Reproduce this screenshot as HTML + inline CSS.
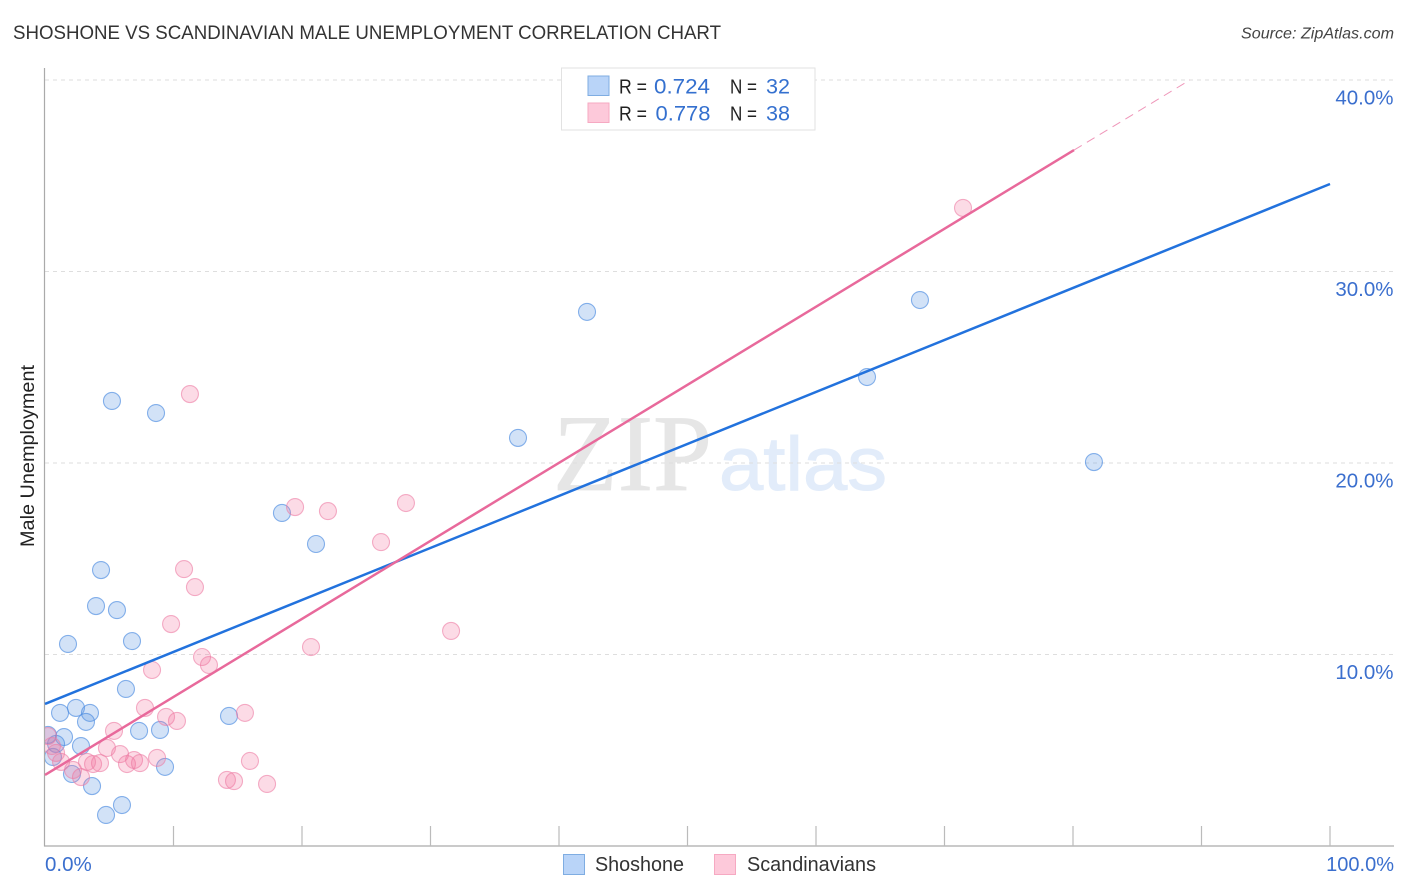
<!DOCTYPE html>
<html lang="en">
<head>
<meta charset="utf-8">
<title>Shoshone vs Scandinavian Male Unemployment Correlation Chart</title>
<style>
html,body{margin:0;padding:0;background:#fff;width:1406px;height:892px;overflow:hidden}
svg{display:block;font-family:"Liberation Sans",sans-serif}
</style>
</head>
<body>
<svg id="chart" width="1406" height="892" viewBox="0 0 1406 892" xmlns="http://www.w3.org/2000/svg">
  <defs><clipPath id="plot-clip"><rect x="45" y="60" width="1349" height="786"/></clipPath></defs>
  <text x="13" y="39" font-size="19.5" fill="#333" textLength="708" lengthAdjust="spacingAndGlyphs">SHOSHONE VS SCANDINAVIAN MALE UNEMPLOYMENT CORRELATION CHART</text>
  <text x="1394" y="38.500" font-size="16" font-style="italic" fill="#444" text-anchor="end" textLength="153" lengthAdjust="spacingAndGlyphs">Source: ZipAtlas.com</text>
  <g id="watermark">
    <text x="553" y="490" font-family="'Liberation Serif',serif" font-size="109" fill="#e6e6e6" stroke="#e6e6e6" stroke-width="0.8" textLength="159" lengthAdjust="spacingAndGlyphs">ZIP</text>
    <text x="719" y="490" font-size="76" fill="#e2ecfa" stroke="#e2ecfa" stroke-width="1" textLength="168" lengthAdjust="spacingAndGlyphs">atlas</text>
  </g>
  <g id="grid"></g>
  <g id="axes"></g>
  <g id="marks" clip-path="url(#plot-clip)"></g>
  <g id="trends"></g>
  <text transform="translate(34,456) rotate(-90)" font-size="19" fill="#222" text-anchor="middle" textLength="182" lengthAdjust="spacingAndGlyphs">Male Unemployment</text>

  <g>
    <rect x="561.5" y="68" width="253.5" height="62" fill="#fff" stroke="#e2e2e2" stroke-width="1"/>
    <rect x="588" y="76" width="21" height="19.5" fill="#b9d4f8" stroke="#7fade2" stroke-width="1"/>
    <rect x="588" y="103" width="21" height="19.5" fill="#fdc9da" stroke="#f6a9c2" stroke-width="1"/>
    <text font-size="20" fill="#222" x="619" y="93.500" textLength="28" lengthAdjust="spacingAndGlyphs">R =</text>
    <text font-size="21" fill="#3470cf" x="654" y="93.500" textLength="56" lengthAdjust="spacingAndGlyphs">0.724</text>
    <text font-size="20" fill="#222" x="730" y="93.500" textLength="27" lengthAdjust="spacingAndGlyphs">N =</text>
    <text font-size="21" fill="#3470cf" x="766" y="93.500" textLength="24" lengthAdjust="spacingAndGlyphs">32</text>
    <text font-size="20" fill="#222" x="619" y="120.500" textLength="28" lengthAdjust="spacingAndGlyphs">R =</text>
    <text font-size="21" fill="#3470cf" x="655.500" y="120.500" textLength="55" lengthAdjust="spacingAndGlyphs">0.778</text>
    <text font-size="20" fill="#222" x="730" y="120.500" textLength="27" lengthAdjust="spacingAndGlyphs">N =</text>
    <text font-size="21" fill="#3470cf" x="766" y="120.500" textLength="24" lengthAdjust="spacingAndGlyphs">38</text>
  </g>

  <g>
    <rect x="563.500" y="854.500" width="21" height="20" fill="#b9d4f8" stroke="#7fade2" stroke-width="1"/>
    <text x="595" y="871" font-size="20" fill="#333" textLength="89" lengthAdjust="spacingAndGlyphs">Shoshone</text>
    <rect x="714.500" y="854.500" width="21" height="20" fill="#fdc9da" stroke="#f6a9c2" stroke-width="1"/>
    <text x="747" y="871" font-size="20" fill="#333" textLength="129" lengthAdjust="spacingAndGlyphs">Scandinavians</text>
  </g>
</svg>
<script>
var shoshoneX = [81.63,68.09,63.97,42.18,36.81,18.44,21.09,8.64,5.21,4.36,3.97,5.60,6.77,1.79,6.30,14.32,1.17,2.41,3.50,3.19,7.32,8.95,1.48,2.80,0.86,0.23,0.62,9.34,2.10,3.66,5.99,4.75];
var shoshoneY = [20.05,28.51,24.49,27.89,21.31,17.39,15.77,22.61,23.24,14.41,12.53,12.32,10.70,10.55,8.20,6.79,6.95,7.21,6.95,6.48,6.01,6.06,5.69,5.22,5.33,5.80,4.65,4.13,3.76,3.13,2.14,1.62];
var scandinavianX = [71.44,11.28,19.46,28.09,22.02,26.15,10.82,11.67,9.81,31.60,20.70,12.22,12.76,8.33,7.78,15.56,9.42,10.27,5.37,4.82,5.84,6.38,6.93,7.39,8.72,15.95,2.80,2.18,1.25,3.74,4.28,3.27,14.16,14.71,17.28,0.86,0.23,0.54];
var scandinavianY = [33.32,23.60,17.70,17.91,17.49,15.87,14.46,13.52,11.59,11.23,10.39,9.87,9.45,9.19,7.21,6.95,6.74,6.53,6.01,5.12,4.80,4.28,4.49,4.33,4.60,4.44,3.60,3.97,4.39,4.28,4.33,4.39,3.45,3.39,3.24,4.86,5.74,5.22];
var shoshoneTrendX = [0,100];
var shoshoneTrendY = [7.42,34.57];
var scandinavianTrendX = [0,80.08];
var scandinavianTrendY = [3.71,36.34];
var scandinavianDashX = [80.08,89.1];
var scandinavianDashY = [36.34,40];
var yTicks = [10,20,30,40];
var yTickLabels = ["10.0%","20.0%","30.0%","40.0%"];
var xTicks = [10,20,30,40,50,60,70,80,90,100];
var xEndTicks = [0,100];
var xEndLabels = ["0.0%","100.0%"];

function xScale(v){ return 45 + v * 12.85; }
function yScale(v){ return 846 - v * 19.15; }

var NS = "http://www.w3.org/2000/svg";
function make(tag, attrs, parent){
  var el = document.createElementNS(NS, tag);
  for (var k in attrs) el.setAttribute(k, attrs[k]);
  parent.appendChild(el);
  return el;
}
var grid = document.getElementById("grid");
var axes = document.getElementById("axes");
var marks = document.getElementById("marks");
var trends = document.getElementById("trends");

yTicks.forEach(function(t, i){
  var y = yScale(t);
  var line = make("line", {x1:45, x2:1393, y1:y, y2:y, stroke:"#dedede", "stroke-width":1, "stroke-dasharray":"4 4"}, grid);
  
  
  var label = make("text", {x:1393.5, y:y + 24.5, "font-size":20.5, fill:"#3b6fce", "text-anchor":"end"}, axes);
  label.textContent = yTickLabels[i];
  
  
});

var yAxis = make("line", {x1:44.5, x2:44.5, y1:68, y2:846.5, stroke:"#aaa", "stroke-width":1.2}, axes);


var xAxis = make("line", {x1:44, x2:1394, y1:846, y2:846, stroke:"#aaa", "stroke-width":1.2}, axes);



xTicks.forEach(function(t){
  var x = xScale(t);
  var tick = make("line", {x1:x, x2:x, y1:826, y2:846, stroke:"#bbb", "stroke-width":1.2}, axes);
  
  
});

xEndTicks.forEach(function(t, i){
  var label = make("text", {x:i === 0 ? xScale(t) : xScale(t) + 64, y:871, "font-size":i === 0 ? 20.5 : 20, fill:"#3b6fce", "text-anchor":i === 0 ? "start" : "end"}, axes);
  label.textContent = xEndLabels[i];
  
  
});

shoshoneX.forEach(function(v, i){
  var dot = make("circle", {cx:xScale(v), cy:yScale(shoshoneY[i]), r:8.5, fill:"#5f98e4", "fill-opacity":0.28, stroke:"#4a8ae0", "stroke-opacity":0.65, "stroke-width":1.1}, marks);
  
  
});
scandinavianX.forEach(function(v, i){
  var dot = make("circle", {cx:xScale(v), cy:yScale(scandinavianY[i]), r:8.5, fill:"#f2739e", "fill-opacity":0.26, stroke:"#ec7ba3", "stroke-opacity":0.6, "stroke-width":1.1}, marks);
  
  
});

var blueTrend = make("line", {x1:xScale(shoshoneTrendX[0]), y1:yScale(shoshoneTrendY[0]), x2:xScale(shoshoneTrendX[1]), y2:yScale(shoshoneTrendY[1]), stroke:"#2272dd", "stroke-width":2.5}, trends);


var pinkTrend = make("line", {x1:xScale(scandinavianTrendX[0]), y1:yScale(scandinavianTrendY[0]), x2:xScale(scandinavianTrendX[1]), y2:yScale(scandinavianTrendY[1]), stroke:"#e8699b", "stroke-width":2.5}, trends);


var pinkDash = make("line", {x1:xScale(scandinavianDashX[0]), y1:yScale(scandinavianDashY[0]), x2:xScale(scandinavianDashX[1]), y2:yScale(scandinavianDashY[1]), stroke:"#e8699b", "stroke-width":1, "stroke-opacity":0.7, "stroke-dasharray":"9 6"}, trends);


</script>
</body>
</html>
